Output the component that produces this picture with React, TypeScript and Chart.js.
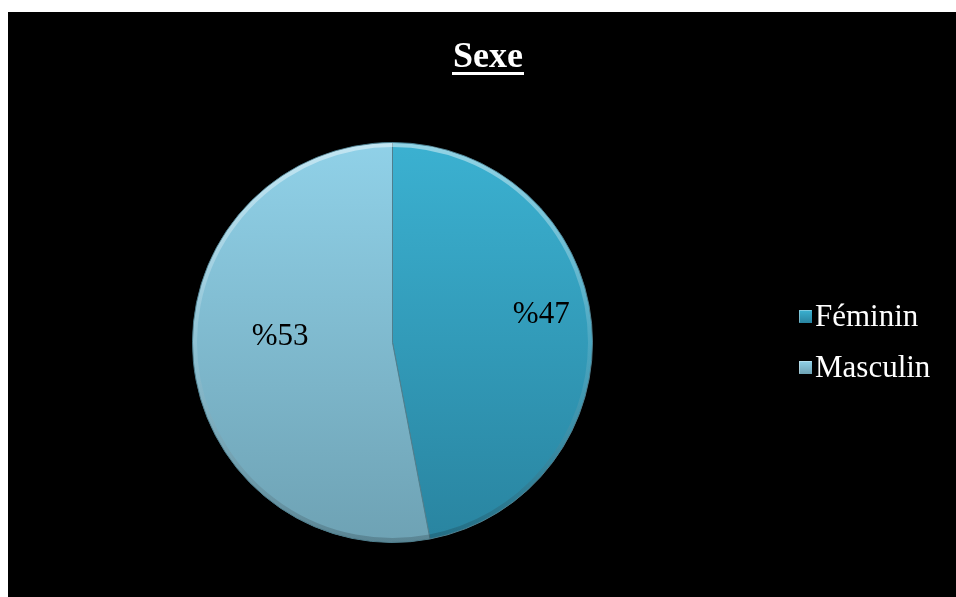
import React, { useEffect, useRef } from "react";
import { Chart, registerables } from "chart.js";

Chart.register(...registerables);

const TITLE = "Sexe";
const categories = ["Féminin", "Masculin"];
const values = [47, 53];
const valueLabels = ["%47", "%53"];

const topColors = ["#3bb1d1", "#90d1e8"];
const bottomColors = ["#2984a0", "#6ea2b4"];
const labelRadial = [0.747, 0.564];
const labelDy = [-13.5, -16.5];

const SERIF = "'Liberation Serif', 'Times New Roman', serif";

const decorPlugin = {
  id: "decor",
  afterDatasetsDraw(chart: any) {
    const ctx = chart.ctx;
    const meta = chart.getDatasetMeta(0);
    meta.data.forEach((arc: any) => {
      const { x, y, startAngle, endAngle, outerRadius } = arc.getProps(
        ["x", "y", "startAngle", "endAngle", "outerRadius"],
        true
      );
      const g = ctx.createLinearGradient(0, y - outerRadius, 0, y + outerRadius);
      g.addColorStop(0, "rgba(255,255,255,0.45)");
      g.addColorStop(0.5, "rgba(255,255,255,0.12)");
      g.addColorStop(1, "rgba(0,0,0,0.18)");
      ctx.save();
      ctx.beginPath();
      ctx.arc(x, y, outerRadius - 2.5, startAngle, endAngle);
      ctx.strokeStyle = g;
      ctx.lineWidth = 4;
      ctx.stroke();
      ctx.restore();
    });
    ctx.save();
    ctx.font = `31px ${SERIF}`;
    ctx.fillStyle = "#000";
    ctx.textAlign = "center";
    ctx.textBaseline = "middle";
    meta.data.forEach((arc: any, i: number) => {
      const { x, y, startAngle, endAngle, outerRadius } = arc.getProps(
        ["x", "y", "startAngle", "endAngle", "outerRadius"],
        true
      );
      const mid = (startAngle + endAngle) / 2;
      const px = x + Math.cos(mid) * outerRadius * labelRadial[i];
      const py = y + Math.sin(mid) * outerRadius * labelRadial[i] + labelDy[i];
      ctx.fillText(valueLabels[i], px, py);
    });
    ctx.restore();
  },
  afterDraw(chart: any) {
    const ctx = chart.ctx;
    ctx.save();
    ctx.font = `bold 36px ${SERIF}`;
    ctx.fillStyle = "#fff";
    ctx.textAlign = "center";
    ctx.textBaseline = "alphabetic";
    const tx = 480;
    const ty = 55;
    ctx.fillText(TITLE, tx, ty);
    const w = ctx.measureText(TITLE).width;
    ctx.fillRect(tx - w / 2 - 1, 60, w + 2, 3);
    ctx.restore();

    ctx.save();
    ctx.font = `31px ${SERIF}`;
    ctx.textAlign = "left";
    ctx.textBaseline = "alphabetic";
    const baselines = [314, 365];
    categories.forEach((lab, i) => {
      const by = baselines[i];
      const mx = 791;
      const my = by - 16;
      const s = 13;
      const g = ctx.createLinearGradient(mx, my, mx, my + s);
      g.addColorStop(0, topColors[i]);
      g.addColorStop(1, bottomColors[i]);
      ctx.fillStyle = g;
      ctx.fillRect(mx, my, s, s);
      ctx.strokeStyle = "rgba(255,255,255,0.35)";
      ctx.lineWidth = 1;
      ctx.beginPath();
      ctx.moveTo(mx + 0.5, my + s - 0.5);
      ctx.lineTo(mx + 0.5, my + 0.5);
      ctx.lineTo(mx + s - 0.5, my + 0.5);
      ctx.stroke();
      ctx.fillStyle = "#fff";
      ctx.fillText(lab, 807, by);
    });
    ctx.restore();
  },
};

export default function App() {
  const ref = useRef<HTMLCanvasElement | null>(null);
  useEffect(() => {
    if (!ref.current) return;
    const chart = new Chart(ref.current, {
      type: "pie",
      data: {
        labels: categories,
        datasets: [
          {
            data: values,
            backgroundColor: (c: any) => {
              const ca = c.chart.chartArea;
              if (!ca) return topColors[c.dataIndex];
              const g = c.chart.ctx.createLinearGradient(0, ca.top, 0, ca.bottom);
              g.addColorStop(0, topColors[c.dataIndex]);
              g.addColorStop(1, bottomColors[c.dataIndex]);
              return g;
            },
            borderColor: "#4f7f8e",
            borderWidth: 1,
          },
        ],
      },
      options: {
        responsive: false,
        animation: false,
        layout: { padding: { left: 184, right: 363, top: 130, bottom: 54 } },
        plugins: {
          legend: { display: false },
          title: { display: false },
          tooltip: { enabled: false },
        },
      },
      plugins: [decorPlugin],
    });
    return () => chart.destroy();
  }, []);
  return (
    <div
      style={{
        position: "fixed",
        left: 8,
        top: 12,
        width: 948,
        height: 585,
        background: "#000",
      }}
    >
      <canvas ref={ref} width={948} height={585} style={{ display: "block" }} />
    </div>
  );
}
